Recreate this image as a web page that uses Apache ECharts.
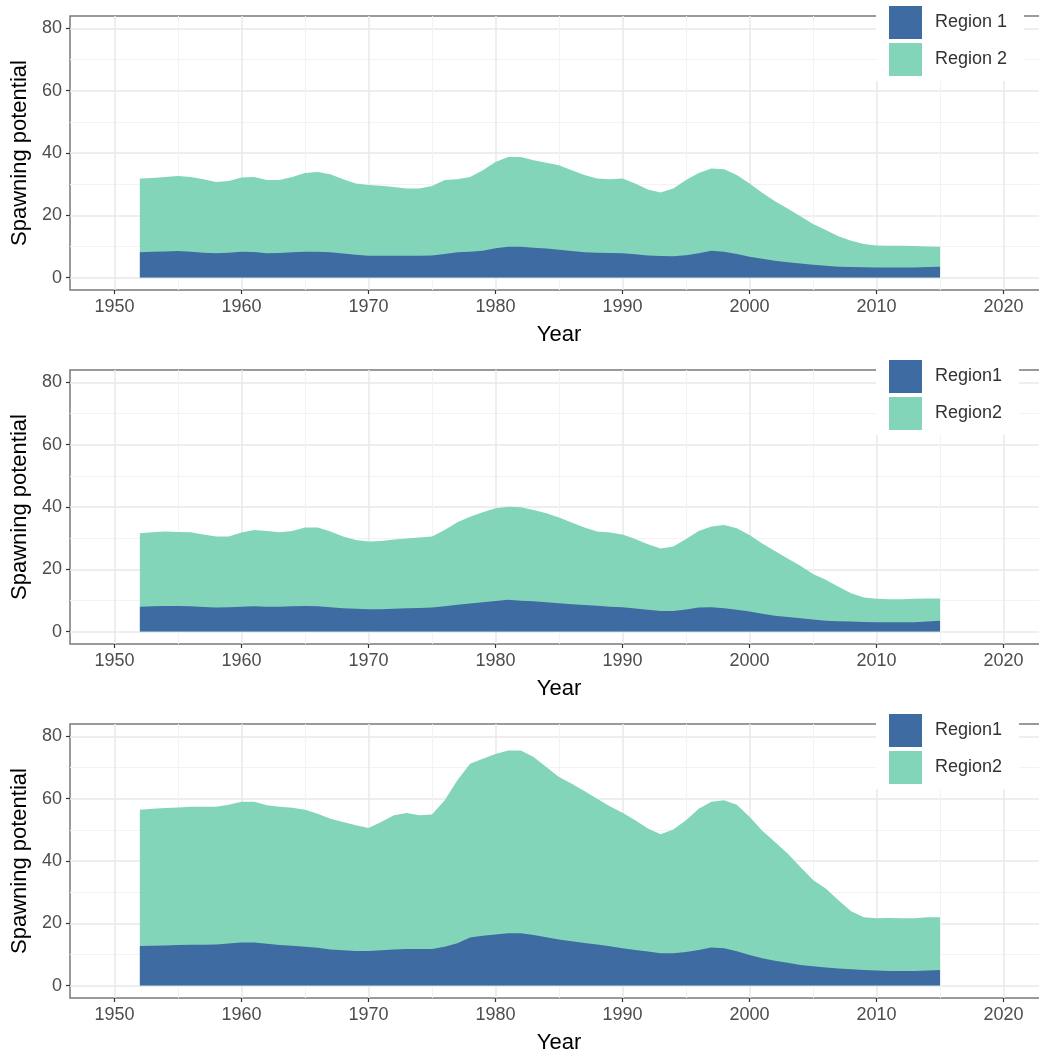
<!DOCTYPE html>
<html><head><meta charset="utf-8">
<script src="https://cdn.jsdelivr.net/npm/echarts@6/dist/echarts.min.js"></script>
<style>html,body{margin:0;padding:0;background:#fff}#c{width:1039px;height:1057px}</style>
</head><body><div id="c"></div>
<script>
const years = [1952,1953,1954,1955,1956,1957,1958,1959,1960,1961,1962,1963,1964,1965,1966,1967,1968,1969,1970,1971,1972,1973,1974,1975,1976,1977,1978,1979,1980,1981,1982,1983,1984,1985,1986,1987,1988,1989,1990,1991,1992,1993,1994,1995,1996,1997,1998,1999,2000,2001,2002,2003,2004,2005,2006,2007,2008,2009,2010,2011,2012,2013,2014,2015];
const xMajorTicks = [1950,1960,1970,1980,1990,2000,2010,2020];
const xMinorTicks = [1955,1965,1975,1985,1995,2005,2015];
const yMajorTicks = [0,20,40,60,80];
const yMinorTicks = [10,30,50,70];
const panel1Names = ['Region 1','Region 2'];
const panel23Names = ['Region1','Region2'];

const p1Region1 = [8.1,8.3,8.4,8.5,8.3,8.0,7.8,8.0,8.3,8.2,7.8,7.9,8.1,8.3,8.3,8.1,7.7,7.3,7.0,7.0,7.0,7.0,7.0,7.1,7.6,8.1,8.3,8.6,9.4,9.9,9.9,9.6,9.3,8.9,8.5,8.1,8.0,7.9,7.8,7.5,7.1,6.9,6.8,7.2,7.8,8.6,8.3,7.6,6.7,6.0,5.4,4.9,4.5,4.1,3.8,3.5,3.4,3.3,3.2,3.2,3.2,3.2,3.4,3.5];
const p1Region2 = [23.7,23.7,23.9,24.1,24.0,23.6,22.9,23.0,23.8,24.1,23.5,23.4,24.2,25.3,25.6,25.1,23.9,22.9,22.7,22.5,22.1,21.6,21.6,22.3,23.7,23.5,24.0,25.9,27.7,28.8,28.8,28.1,27.6,27.2,26.0,24.8,23.8,23.7,24.0,22.7,21.2,20.4,21.8,24.1,25.8,26.4,26.5,25.3,23.5,21.2,19.1,17.3,15.2,13.1,11.5,9.8,8.4,7.5,7.1,7.0,7.0,6.9,6.6,6.4];

const p2Region1 = [8.0,8.1,8.2,8.2,8.1,7.9,7.7,7.8,8.0,8.1,8.0,8.0,8.1,8.2,8.1,7.8,7.5,7.3,7.2,7.2,7.3,7.5,7.6,7.7,8.1,8.6,9.0,9.4,9.8,10.2,9.9,9.7,9.4,9.1,8.8,8.5,8.3,8.0,7.8,7.4,7.0,6.6,6.6,7.1,7.7,7.8,7.5,7.0,6.4,5.7,5.1,4.7,4.3,3.9,3.5,3.3,3.2,3.1,3.0,3.0,3.0,3.0,3.2,3.5];
const p2Region2 = [23.6,23.8,23.9,23.8,23.8,23.3,22.8,22.7,23.8,24.5,24.3,23.9,24.2,25.2,25.3,24.3,23.0,22.1,21.7,21.9,22.3,22.4,22.6,22.8,24.5,26.5,27.9,28.9,29.8,29.9,30.0,29.3,28.6,27.5,26.2,24.9,23.8,23.8,23.4,22.3,21.0,20.1,20.7,22.6,24.6,25.9,26.7,26.2,24.6,22.6,20.8,18.8,16.8,14.6,13.1,11.1,9.1,7.8,7.5,7.4,7.4,7.5,7.4,7.1];

const p3Region1 = [12.7,12.8,12.9,13.0,13.1,13.1,13.2,13.5,13.8,13.8,13.4,13.0,12.8,12.5,12.1,11.6,11.3,11.1,11.1,11.3,11.6,11.7,11.7,11.7,12.5,13.6,15.4,16.0,16.4,16.8,16.8,16.2,15.5,14.8,14.2,13.7,13.2,12.6,12.0,11.4,10.9,10.4,10.4,10.8,11.4,12.2,12.0,11.0,9.8,8.8,8.0,7.3,6.6,6.2,5.8,5.5,5.2,5.0,4.8,4.7,4.7,4.7,4.8,5.0];
const p3Region2 = [43.8,44.0,44.1,44.2,44.3,44.3,44.2,44.6,45.2,45.2,44.5,44.4,44.3,44.0,43.1,42.0,41.2,40.4,39.5,41.2,43.1,43.7,43.0,43.2,47.0,52.3,55.8,56.8,58.0,58.7,58.7,57.2,54.7,52.2,50.6,48.8,46.8,45.0,43.5,41.7,39.5,38.2,39.7,42.3,45.4,46.8,47.5,47.1,44.4,40.9,38.1,35.1,31.5,27.7,25.4,21.9,18.7,16.9,16.8,17.0,16.9,16.9,17.1,16.9];

const colors = ['#3e6ba2', '#82d5b8'];
const FONT = "'Liberation Sans', Arial, sans-serif";
const panels = [
  {names: panel1Names, r1: p1Region1, r2: p1Region2},
  {names: panel23Names, r1: p2Region1, r2: p2Region2},
  {names: panel23Names, r1: p3Region1, r2: p3Region2}
];
const gridTops = [16, 370, 724];
const legendTops = [1, 355, 709];
const yearFmt = v => String(v);

const grid = [], xAxis = [], yAxis = [], series = [], legend = [];
panels.forEach((p, i) => {
  grid.push({left: 70, width: 978, top: gridTops[i], height: 274, show: true,
    outerBoundsMode: 'none', containLabel: false,
    borderColor: '#7a7a7a', borderWidth: 1.5, backgroundColor: 'transparent'});
  xAxis.push({type: 'value', gridIndex: i, min: 1946.5, max: 2023.5, position: 'bottom',
    name: 'Year', nameLocation: 'middle', nameGap: 34,
    nameTextStyle: {fontSize: 22, color: '#000', fontFamily: FONT},
    axisLine: {show: false, onZero: false},
    axisTick: {show: true, length: 4, customValues: xMajorTicks, lineStyle: {color: '#333', width: 1.2}},
    axisLabel: {show: true, customValues: xMajorTicks, formatter: yearFmt, fontSize: 18, color: '#4d4d4d', margin: 8, fontFamily: FONT},
    splitLine: {show: true, lineStyle: {color: '#e9e9e9', width: 1.5}}
  });
  xAxis.push({type: 'value', gridIndex: i, min: 1946.5, max: 2023.5, position: 'bottom',
    axisLine: {show: false, onZero: false}, axisTick: {show: false, customValues: xMinorTicks},
    axisLabel: {show: false, customValues: xMinorTicks},
    splitLine: {show: true, lineStyle: {color: '#f3f3f3', width: 1}}
  });
  yAxis.push({type: 'value', gridIndex: i, min: -4, max: 84, position: 'left',
    name: 'Spawning potential', nameLocation: 'middle', nameGap: 38,
    nameTextStyle: {fontSize: 22, color: '#000', fontFamily: FONT},
    axisLine: {show: false, onZero: false},
    axisTick: {show: true, length: 4, customValues: yMajorTicks, lineStyle: {color: '#333', width: 1.2}},
    axisLabel: {show: true, customValues: yMajorTicks, fontSize: 18, color: '#4d4d4d', margin: 8, fontFamily: FONT},
    splitLine: {show: true, lineStyle: {color: '#e9e9e9', width: 1.5}}
  });
  yAxis.push({type: 'value', gridIndex: i, min: -4, max: 84, position: 'left',
    axisLine: {show: false, onZero: false}, axisTick: {show: false, customValues: yMinorTicks},
    axisLabel: {show: false, customValues: yMinorTicks},
    splitLine: {show: true, lineStyle: {color: '#f3f3f3', width: 1}}
  });
  // Region 2 is stacked on top of Region 1: its upper edge is Region1 + Region2
  const r2Top = years.map((y, j) => [y, Math.round((p.r1[j] + p.r2[j]) * 100) / 100]);
  const r1Top = years.map((y, j) => [y, p.r1[j]]);
  series.push({
    name: p.names[1], type: 'line', xAxisIndex: 2 * i, yAxisIndex: 2 * i,
    data: r2Top, symbol: 'none', showSymbol: false, smooth: false,
    lineStyle: {width: 0}, areaStyle: {color: colors[1], opacity: 1, origin: 0},
    itemStyle: {color: colors[1]}, z: 2, silent: true
  });
  series.push({
    name: p.names[0], type: 'line', xAxisIndex: 2 * i, yAxisIndex: 2 * i,
    data: r1Top, symbol: 'none', showSymbol: false, smooth: false,
    lineStyle: {width: 0}, areaStyle: {color: colors[0], opacity: 1, origin: 0},
    itemStyle: {color: colors[0]}, z: 3, silent: true
  });
  legend.push({
    orient: 'vertical', left: 876, top: legendTops[i],
    data: p.names, icon: 'rect', itemWidth: 33, itemHeight: 33, itemGap: 4,
    padding: [5, 17, 5, 13], backgroundColor: '#fff', selectedMode: false,
    textStyle: {fontSize: 18, color: '#333', fontFamily: FONT, padding: [0, 0, 0, 8]}
  });
});

const chart = echarts.init(document.getElementById('c'), null, {renderer: 'canvas'});
chart.setOption({animation: false, backgroundColor: '#fff', textStyle: {fontFamily: FONT},
  grid, xAxis, yAxis, series, legend});
</script></body></html>
